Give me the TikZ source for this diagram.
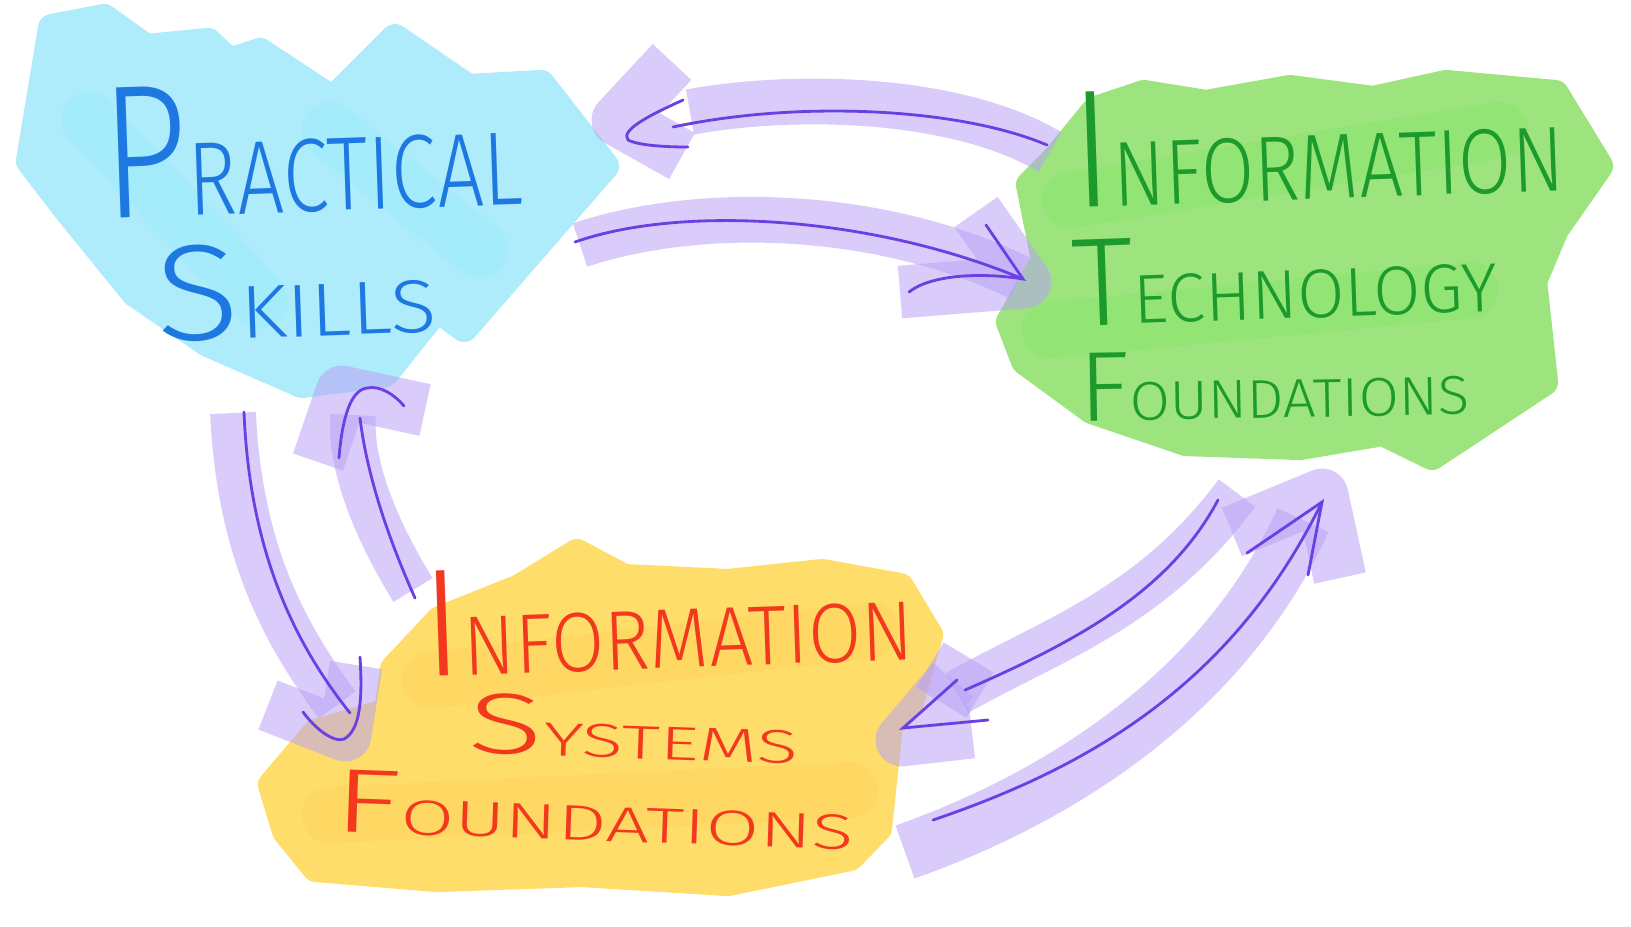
\documentclass[tikz,border=0pt]{standalone}
\usepackage{fontspec}
\usepackage{graphicx}
\newfontfamily\hand{Fira Sans}[UprightFont=* Light]
\definecolor{skyfill}{HTML}{AEEBFB}
\definecolor{leaffill}{HTML}{9DE47E}
\definecolor{sunfill}{HTML}{FFDD6A}
\definecolor{bandfill}{HTML}{B9A2F6}
\definecolor{bandink}{HTML}{6B40E2}
\definecolor{skyink}{HTML}{1E78E2}
\definecolor{leafink}{HTML}{1C9A2C}
\definecolor{sunink}{HTML}{F2391E}
\newcommand{\hw}[2]{{\hand\fontsize{40}{40}\selectfont #1\fontsize{22}{22}\selectfont #2}}
\tikzset{
  blob/.style={line width=8pt, line join=round},
  smear/.style={line width=16pt, line cap=round, draw opacity=.35},
  band/.style={line width=13pt, draw=bandfill, draw opacity=.55},
  headband/.style={line width=15pt, draw=bandfill, draw opacity=.55, line join=round},
  ink/.style={draw=bandink, line width=.8pt, line cap=round},
  label/.style={inner sep=0pt, rotate=2}
}
\begin{document}
\begin{tikzpicture}[x=0.01cm, y=-0.01cm]
\useasboundingbox (0,0) rectangle (1631,926);

% blobs
\filldraw[skyfill, blob] (30,161) -- (52,28) -- (104,18) -- (146,48) -- (208,42) -- (229,62)
  -- (260,52) -- (333,100) -- (395,38) -- (468,88) -- (541,84) -- (605,166) -- (464,328)
  -- (437,308) -- (385,373) -- (302,384) -- (208,343) -- (135,293) -- (66,208) -- cycle;
\draw[skyfill!85!cyan, smear] (90,120) -- (260,300);
\draw[skyfill!85!cyan, smear] (330,130) -- (480,250);

\filldraw[leaffill, blob] (1030,185) -- (1055,160) -- (1096,110) -- (1144,94) -- (1206,104)
  -- (1290,89) -- (1373,100) -- (1446,84) -- (1555,94) -- (1599,166) -- (1555,229)
  -- (1533,281) -- (1544,382) -- (1432,456) -- (1383,432) -- (1300,446) -- (1186,442)
  -- (1092,410) -- (1025,361) -- (1010,322) -- (1045,260) -- cycle;
\draw[leaffill!80!green, smear] (1070,200) -- (1500,130);
\draw[leaffill!80!green, smear] (1050,330) -- (1470,290);

\filldraw[sunfill, blob] (272,785) -- (316,733) -- (388,712) -- (394,669) -- (440,620)
  -- (520,588) -- (577,553) -- (624,578) -- (728,583) -- (822,573) -- (900,587)
  -- (929,635) -- (909,705) -- (889,725) -- (878,828) -- (850,857) -- (728,882)
  -- (582,873) -- (437,878) -- (316,868) -- (286,831) -- cycle;
\draw[sunfill!85!orange, smear] (430,680) -- (870,630);
\draw[sunfill!85!orange, smear] (330,815) -- (850,790);

% texts
\node[label, text=skyink] (practical) at (312,147) {\resizebox{4.2cm}{1.3cm}{\hw{P}{RACTICAL}}};
\node[label, text=skyink] (skills) at (296,290) {\resizebox{2.8cm}{0.95cm}{\hw{S}{KILLS}}};

\node[label, text=leafink] (itinfo) at (1318,142) {\resizebox{4.9cm}{1.15cm}{\hw{I}{NFORMATION}}};
\node[label, text=leafink] (ittech) at (1284,276) {\resizebox{4.25cm}{0.86cm}{\hw{T}{ECHNOLOGY}}};
\node[label, text=leafink, rotate=-1] (itfound) at (1274,384) {\resizebox{3.9cm}{0.68cm}{\hw{F}{OUNDATIONS}}};

\node[label, text=sunink] (isinfo) at (668,616) {\resizebox{4.9cm}{1.05cm}{\hw{I}{NFORMATION}}};
\node[label, text=sunink, rotate=-4] (issys) at (634,729) {\resizebox{3.3cm}{0.6cm}{\hw{S}{YSTEMS}}};
\node[label, text=sunink, rotate=-4] (isfound) at (594,810) {\resizebox{5.2cm}{0.62cm}{\hw{F}{OUNDATIONS}}};

% arrow ends
\coordinate (it-ps-s) at (1047,145);
\coordinate (it-ps-e) at (673,127);
\coordinate (ps-it-s) at (575,242);
\coordinate (ps-it-e) at (1023,279);
\coordinate (ps-is-s) at (244,412);
\coordinate (ps-is-e) at (347,737);
\coordinate (is-ps-s) at (415,598);
\coordinate (is-ps-e) at (367,388);
\coordinate (it-is-s) at (1218,500);
\coordinate (it-is-e) at (903,728);
\coordinate (is-it-s) at (933,820);
\coordinate (is-it-e) at (1322,502);

% technology -> practical
\draw[band] (1050,152) .. controls (960,98) and (800,92) .. (690,112);
\draw[headband] (672,62) -- (618,120) -- (682,156);
\draw[ink] (it-ps-s) .. controls (960,108) and (800,100) .. (it-ps-e);
\draw[ink] (683,100) .. controls (650,115) and (620,130) .. (628,140) .. controls (640,146) and (670,147) .. (688,147);

% practical -> technology
\draw[band] (580,245) .. controls (700,205) and (880,210) .. (1020,278);
\draw[headband] (976,212) -- (1025,282) -- (900,292);
\draw[ink] (ps-it-s) .. controls (680,205) and (870,215) .. (ps-it-e);
\draw[ink] (986,225) -- (ps-it-e) .. controls (980,272) and (930,275) .. (909,292);

% practical -> systems
\draw[band] (233,413) .. controls (240,560) and (290,640) .. (337,705);
\draw[headband] (268,705) -- (345,735) -- (356,665);
\draw[ink] (ps-is-s) .. controls (250,560) and (300,650) .. (350,713);
\draw[ink] (303,712) .. controls (320,735) and (340,745) .. (ps-is-e) .. controls (362,725) and (362,690) .. (360,657);

% systems -> practical
\draw[band] (413,590) .. controls (370,520) and (350,460) .. (353,415);
\draw[headband] (318,462) -- (342,392) -- (425,410);
\draw[ink] (is-ps-s) .. controls (380,520) and (365,460) .. (360,418);
\draw[ink] (339,458) .. controls (342,420) and (350,390) .. (is-ps-e) .. controls (380,385) and (395,395) .. (404,406);

% technology -> systems
\draw[band] (1237,493) .. controls (1150,610) and (1050,640) .. (957,693);
\draw[headband] (930,665) -- (980,695);
\draw[headband] (953,680) -- (902,740) -- (972,732);
\draw[ink] (it-is-s) .. controls (1170,590) and (1080,640) .. (965,690);
\draw[ink] (957,680) -- (it-is-e) -- (988,720);

% systems -> technology
\draw[band, line width=16pt] (905,852) .. controls (1080,790) and (1230,680) .. (1303,520);
\draw[headband] (1232,532) -- (1322,495) -- (1340,578);
\draw[ink] (is-it-s) .. controls (1080,770) and (1230,690) .. (is-it-e);
\draw[ink] (1247,553) -- (is-it-e) -- (1308,575);
\end{tikzpicture}
\end{document}
